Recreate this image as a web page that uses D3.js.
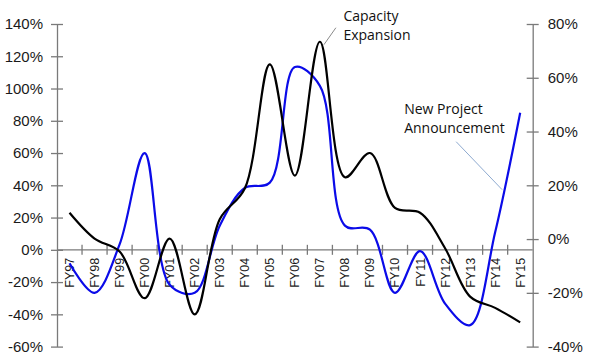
<!DOCTYPE html>
<html><head><meta charset="utf-8">
<script src="https://cdn.jsdelivr.net/npm/d3@7"></script>
<style>body{margin:0;background:#fff}svg{display:block}</style>
</head><body>
<svg id="c" width="591" height="359"></svg>
<script>
const categories = ["FY97","FY98","FY99","FY00","FY01","FY02","FY03","FY04","FY05","FY06","FY07","FY08","FY09","FY10","FY11","FY12","FY13","FY14","FY15"];
const capacitySeries = [23, 7, -1, -30, 7, -40, 19, 38, 115, 46, 129, 45, 60, 26, 23, 1, -29, -36, -45];
const projectSeries = [-9, -20, -2, 32, -17, -20, 5, 19, 21, 64, 57, 5, 3.5, -20, -4.5, -24, -32, 2.5, 47];
const leftTicks = [-60, -40, -20, 0, 20, 40, 60, 80, 100, 120, 140];
const rightTicks = [-40, -20, 0, 20, 40, 60, 80];
const annotations = [
  {lines: ["Capacity", "Expansion"], series: "capacity", cat: "FY07"},
  {lines: ["New Project", "Announcement"], series: "project", cat: "FY15"}
];

const svg = d3.select("#c");
const L = 57, R = 532.7, T = 24, B = 346.6;
const x = d3.scaleBand().domain(categories).range([L, R]).padding(0);
const yL = d3.scaleLinear().domain([-60, 140]).range([B, T]);
const yR = d3.scaleLinear().domain([-40, 80]).range([B, T]);
const axisCol = "#7a7a7a";
const fontAx = "'Liberation Sans', Arial, sans-serif";

// Left axis
const gL = svg.append("g").attr("transform", `translate(${L},0)`)
  .call(d3.axisLeft(yL).tickValues(leftTicks).tickFormat(d => d + "%").tickSizeInner(6).tickSizeOuter(0).tickPadding(8));
gL.selectAll(".tick line").attr("x1", 6);
gL.select(".domain").attr("stroke", axisCol).attr("stroke-width", 1.3);
gL.selectAll(".tick line").attr("stroke", axisCol).attr("stroke-width", 1.3);
gL.selectAll(".tick text").attr("font-family", fontAx).attr("font-size", 15).attr("fill", "#1a1a1a");

// Right axis
const gR = svg.append("g").attr("transform", `translate(${R},0)`)
  .call(d3.axisRight(yR).tickValues(rightTicks).tickFormat(d => d + "%").tickSizeInner(6).tickSizeOuter(0).tickPadding(9));
gR.selectAll(".tick line").attr("x1", -6);
gR.select(".domain").attr("stroke", axisCol).attr("stroke-width", 1.3);
gR.selectAll(".tick line").attr("stroke", axisCol).attr("stroke-width", 1.3);
gR.selectAll(".tick text").attr("font-family", fontAx).attr("font-size", 15).attr("fill", "#1a1a1a");

// X axis at left-axis zero
const y0 = yL(0);
const gX = svg.append("g");
gX.append("line").attr("x1", L).attr("x2", R).attr("y1", y0).attr("y2", y0)
  .attr("stroke", axisCol).attr("stroke-width", 1.3);
const bounds = categories.slice(1).map(c => x(c));
gX.selectAll("line.tk").data(bounds).enter().append("line").attr("class", "tk")
  .attr("x1", d => d).attr("x2", d => d).attr("y1", y0 - 5).attr("y2", y0 + 5)
  .attr("stroke", axisCol).attr("stroke-width", 1.3);
gX.selectAll("text").data(categories).enter().append("text")
  .attr("transform", d => `translate(${x(d) + x.bandwidth() / 2 + 4.5},${y0 + 8}) rotate(-90)`)
  .attr("text-anchor", "end").attr("font-family", fontAx).attr("font-size", 12.5).attr("fill", "#1a1a1a")
  .text(d => d);

// Series
const cx = d => x(d) + x.bandwidth() / 2;
const lineL = d3.line().x((d, i) => cx(categories[i])).y(d => yL(d)).curve(d3.curveCatmullRom.alpha(0.5));
const lineR = d3.line().x((d, i) => cx(categories[i])).y(d => yR(d)).curve(d3.curveCatmullRom.alpha(0.5));
svg.append("path").attr("d", lineR(projectSeries)).attr("fill", "none").attr("stroke", "#0b0be8").attr("stroke-width", 2.2);
svg.append("path").attr("d", lineL(capacitySeries)).attr("fill", "none").attr("stroke", "#000").attr("stroke-width", 2.2);

// Annotations
const fontAnn = "'Open Sans', 'Noto Sans', sans-serif";
const a1 = annotations[0];
const p1x = cx(a1.cat), p1y = yL(capacitySeries[categories.indexOf(a1.cat)]);
svg.append("line").attr("x1", p1x + 4).attr("y1", p1y + 3).attr("x2", p1x + 16).attr("y2", p1y - 14)
  .attr("stroke", "#8a8a8a").attr("stroke-width", 1);
svg.append("text").attr("font-family", fontAnn).attr("font-size", 14).attr("fill", "#111")
  .selectAll("tspan").data(a1.lines).enter().append("tspan")
  .attr("x", p1x + 23.5).attr("y", (d, i) => p1y - 21 + i * 19).text(d => d);

const a2 = annotations[1];
const p2x = cx(a2.cat), p2y = yR(projectSeries[categories.indexOf(a2.cat)]);
svg.append("line").attr("x1", p2x - 64).attr("y1", p2y + 29).attr("x2", p2x - 18).attr("y2", p2y + 77)
  .attr("stroke", "#8eaad0").attr("stroke-width", 1);
svg.append("text").attr("font-family", fontAnn).attr("font-size", 14).attr("fill", "#111")
  .selectAll("tspan").data(a2.lines).enter().append("tspan")
  .attr("x", p2x - 116).attr("y", (d, i) => p2y + 1 + i * 19).text(d => d);
</script>
</body></html>
